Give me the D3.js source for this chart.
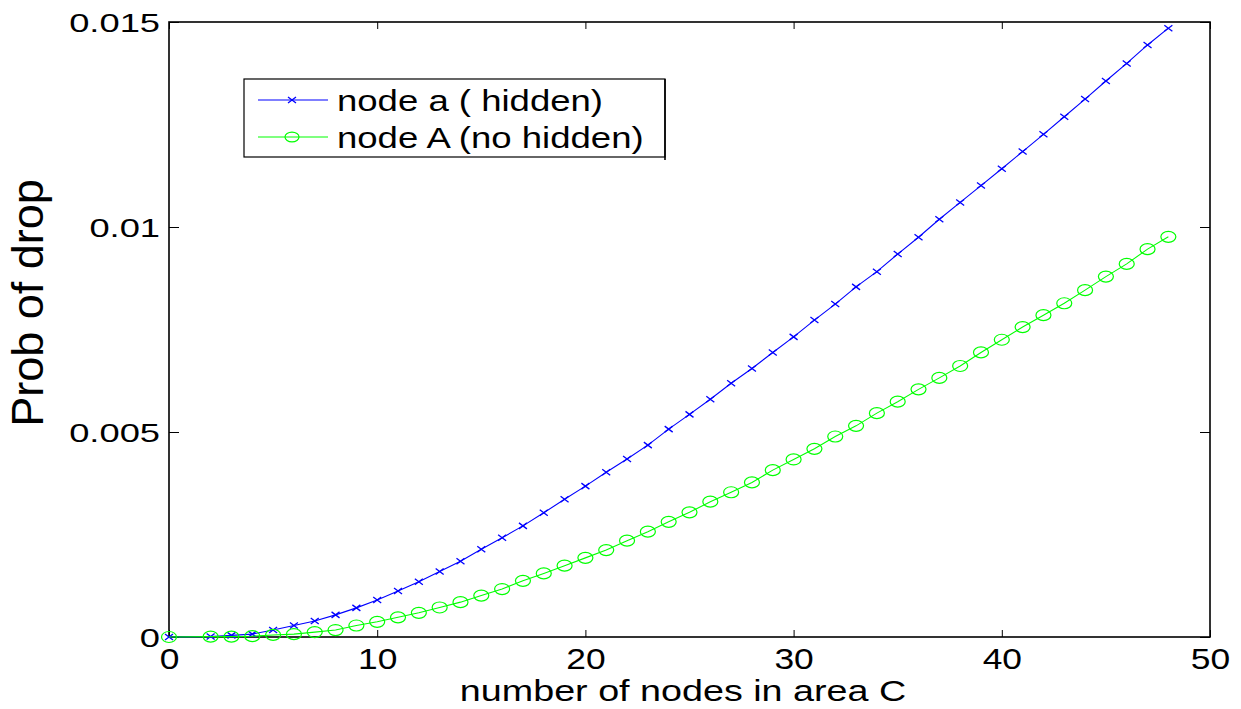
<!DOCTYPE html>
<html>
<head>
<meta charset="utf-8">
<script src="https://cdn.jsdelivr.net/npm/d3@7"></script>
<style>
  html, body { margin: 0; padding: 0; background: #fff; }
  svg { display: block; font-family: "Liberation Sans", Arial, sans-serif; }
</style>
</head>
<body>
<svg id="chart" width="1241" height="709"></svg>
<script>
// Number of nodes in area C
const nodes = [0, 2, 3, 4, 5, 6, 7, 8, 9, 10, 11, 12, 13, 14, 15, 16, 17, 18, 19, 20,
  21, 22, 23, 24, 25, 26, 27, 28, 29, 30, 31, 32, 33, 34, 35, 36, 37, 38, 39, 40,
  41, 42, 43, 44, 45, 46, 47, 48];

// Drop probability, node a (hidden)
const hiddenDrop = [0, 0.00001, 0.00004, 0.00007, 0.00017, 0.00028, 0.00039, 0.00054, 0.00071, 0.00090,
  0.00112, 0.00135, 0.00160, 0.00185, 0.00214, 0.00242, 0.00271, 0.00303, 0.00336, 0.00368,
  0.00402, 0.00434, 0.00468, 0.00507, 0.00543, 0.00580, 0.00619, 0.00655, 0.00694, 0.00732,
  0.00773, 0.00812, 0.00854, 0.00891, 0.00934, 0.00975, 0.01019, 0.01060, 0.01101, 0.01142,
  0.01184, 0.01226, 0.01269, 0.01312, 0.01356, 0.01399, 0.01444, 0.01485];

// Drop probability, node A (no hidden)
const noHiddenDrop = [0, 0.00001, 0.00001, 0.00002, 0.00005, 0.00007, 0.00012, 0.00017, 0.00028, 0.00037,
  0.00048, 0.00059, 0.00072, 0.00085, 0.00101, 0.00117, 0.00137, 0.00155, 0.00174, 0.00193,
  0.00212, 0.00235, 0.00257, 0.00281, 0.00304, 0.00330, 0.00353, 0.00377, 0.00407, 0.00433,
  0.00459, 0.00489, 0.00515, 0.00546, 0.00574, 0.00604, 0.00632, 0.00661, 0.00694, 0.00725,
  0.00756, 0.00785, 0.00814, 0.00846, 0.00879, 0.00910, 0.00946, 0.00976];

const xTicks = [0, 10, 20, 30, 40, 50];
const yTicks = [0, 0.005, 0.01, 0.015];
const yTickLabels = ["0", "0.005", "0.01", "0.015"];

const seriesNames = ["node a ( hidden)", "node A (no hidden)"];

const svg = d3.select("#chart");
const plot = { left: 169, right: 1210, top: 22, bottom: 637 };

const x = d3.scaleLinear().domain([0, 50]).range([plot.left, plot.right]);
const y = d3.scaleLinear().domain([0, 0.015]).range([plot.bottom, plot.top]);

// Axes (ticks point inward on all four sides)
const xSX = 1.22, ySX = 1.37;

const gBottom = svg.append("g").attr("transform", `translate(0,${plot.bottom})`)
  .call(d3.axisBottom(x).tickValues(xTicks).tickSizeInner(-7).tickSizeOuter(0)
    .tickFormat(d3.format("d")));
gBottom.select(".domain").remove();
gBottom.selectAll("text")
  .attr("y", 32).attr("dy", 0)
  .attr("font-size", 29).attr("fill", "#000")
  .attr("font-family", "Liberation Sans, Arial, sans-serif")
  .attr("transform", `scale(${xSX},1)`);

const gTop = svg.append("g").attr("transform", `translate(0,${plot.top})`)
  .call(d3.axisTop(x).tickValues(xTicks).tickSizeInner(-7).tickSizeOuter(0).tickFormat(""));
gTop.select(".domain").remove();

const gLeft = svg.append("g").attr("transform", `translate(${plot.left},0)`)
  .call(d3.axisLeft(y).tickValues(yTicks).tickSizeInner(-10).tickSizeOuter(0)
    .tickFormat((d, i) => yTickLabels[i]));
gLeft.select(".domain").remove();
gLeft.selectAll("text")
  .attr("x", -9 / ySX).attr("dy", "0.35em")
  .attr("font-size", 26.5).attr("fill", "#000")
  .attr("font-family", "Liberation Sans, Arial, sans-serif")
  .attr("transform", `scale(${ySX},1)`);

const gRight = svg.append("g").attr("transform", `translate(${plot.right},0)`)
  .call(d3.axisRight(y).tickValues(yTicks).tickSizeInner(-10).tickSizeOuter(0).tickFormat(""));
gRight.select(".domain").remove();

svg.selectAll(".tick line").attr("stroke", "#000").attr("stroke-width", 1);

// Axes box
svg.append("rect")
  .attr("x", plot.left).attr("y", plot.top)
  .attr("width", plot.right - plot.left).attr("height", plot.bottom - plot.top)
  .attr("fill", "none").attr("stroke", "#000").attr("stroke-width", 1.6);

// Axis titles
svg.append("text")
  .attr("transform", `translate(683,701) scale(1.3,1)`)
  .attr("text-anchor", "middle").attr("font-size", 29).attr("fill", "#000")
  .text("number of nodes in area C");

svg.append("text")
  .attr("transform", "translate(43,303) rotate(-90)")
  .attr("text-anchor", "middle").attr("font-size", 45).attr("fill", "#000")
  .text("Prob of drop");

// Series
const line = d3.line().x(d => x(d[0])).y(d => y(d[1]));
const hiddenPts = nodes.map((n, i) => [n, hiddenDrop[i]]);
const noHiddenPts = nodes.map((n, i) => [n, noHiddenDrop[i]]);

const xMark = "M-4,-3L4,3M-4,3L4,-3";

svg.append("path").datum(hiddenPts)
  .attr("d", line).attr("fill", "none").attr("stroke", "#0000ff").attr("stroke-width", 1.1);
svg.append("g").selectAll("path").data(hiddenPts).join("path")
  .attr("transform", d => `translate(${x(d[0])},${y(d[1])})`)
  .attr("d", xMark).attr("fill", "none").attr("stroke", "#0000ff").attr("stroke-width", 1.3);

svg.append("path").datum(noHiddenPts)
  .attr("d", line).attr("fill", "none").attr("stroke", "#00ff00").attr("stroke-width", 1.1);
svg.append("g").selectAll("ellipse").data(noHiddenPts).join("ellipse")
  .attr("cx", d => x(d[0])).attr("cy", d => y(d[1]))
  .attr("rx", 7.5).attr("ry", 5.5)
  .attr("fill", "none").attr("stroke", "#00ff00").attr("stroke-width", 1.2);

// Legend
const legend = svg.append("g");
legend.append("rect")
  .attr("x", 244).attr("y", 79).attr("width", 421).attr("height", 78)
  .attr("fill", "#fff").attr("stroke", "#000").attr("stroke-width", 1.2);
legend.append("line")
  .attr("x1", 665).attr("x2", 665).attr("y1", 79).attr("y2", 160)
  .attr("stroke", "#000").attr("stroke-width", 1.6);

const legendRows = [
  { name: seriesNames[0], color: "#0000ff", cy: 100, base: 111, marker: "x" },
  { name: seriesNames[1], color: "#00ff00", cy: 137, base: 148, marker: "o" }
];
legendRows.forEach(r => {
  legend.append("line")
    .attr("x1", 258).attr("x2", 328).attr("y1", r.cy).attr("y2", r.cy)
    .attr("stroke", r.color).attr("stroke-width", 1.1);
  if (r.marker === "x") {
    legend.append("path").attr("transform", `translate(292,${r.cy})`)
      .attr("d", xMark).attr("fill", "none").attr("stroke", r.color).attr("stroke-width", 1.3);
  } else {
    legend.append("ellipse").attr("cx", 292).attr("cy", r.cy).attr("rx", 7).attr("ry", 4.8)
      .attr("fill", "none").attr("stroke", r.color).attr("stroke-width", 1.2);
  }
  legend.append("text")
    .attr("transform", `translate(337,${r.base}) scale(1.26,1)`)
    .attr("font-size", 29).attr("fill", "#000")
    .text(r.name);
});
</script>
</body>
</html>
